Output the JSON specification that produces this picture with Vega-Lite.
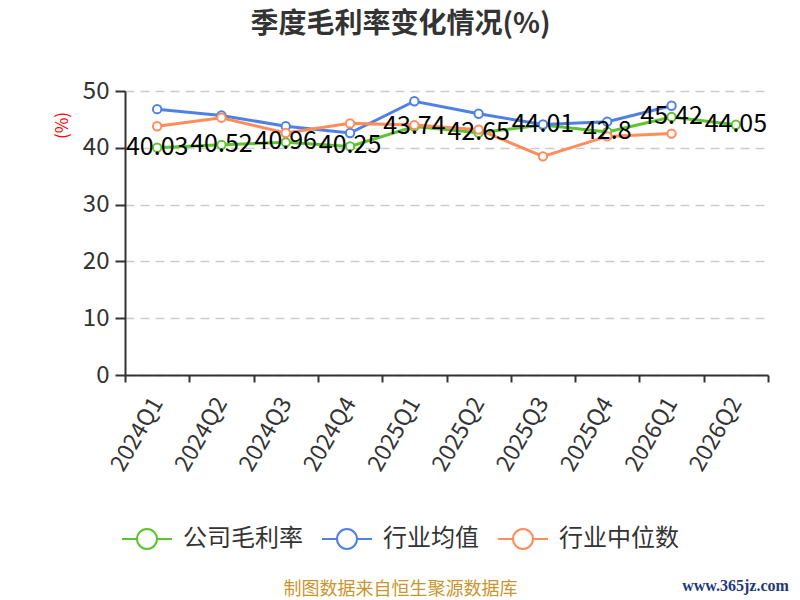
{
  "$schema": "https://vega.github.io/schema/vega-lite/v6.json",
  "width": 643,
  "height": 284,
  "autosize": "none",
  "padding": {"left": 125, "top": 91, "right": 32, "bottom": 225},
  "background": "white",
  "title": {
    "text": "季度毛利率变化情况(%)",
    "fontSize": 28,
    "fontWeight": "bold",
    "color": "#333333",
    "font": "Noto Sans CJK SC",
    "anchor": "middle",
    "frame": "group",
    "dx": -46,
    "offset": 40
  },
  "config": {
    "font": "Noto Sans CJK SC",
    "view": {"stroke": null}
  },
  "data": {
    "values": [
      {"quarter": "2024Q1", "series": "公司毛利率", "value": 40.03},
      {"quarter": "2024Q2", "series": "公司毛利率", "value": 40.52},
      {"quarter": "2024Q3", "series": "公司毛利率", "value": 40.96},
      {"quarter": "2024Q4", "series": "公司毛利率", "value": 40.25},
      {"quarter": "2025Q1", "series": "公司毛利率", "value": 43.74},
      {"quarter": "2025Q2", "series": "公司毛利率", "value": 42.65},
      {"quarter": "2025Q3", "series": "公司毛利率", "value": 44.01},
      {"quarter": "2025Q4", "series": "公司毛利率", "value": 42.8},
      {"quarter": "2026Q1", "series": "公司毛利率", "value": 45.42},
      {"quarter": "2026Q2", "series": "公司毛利率", "value": 44.05},
      {"quarter": "2024Q1", "series": "行业均值", "value": 46.8},
      {"quarter": "2024Q2", "series": "行业均值", "value": 45.7},
      {"quarter": "2024Q3", "series": "行业均值", "value": 43.8},
      {"quarter": "2024Q4", "series": "行业均值", "value": 42.6},
      {"quarter": "2025Q1", "series": "行业均值", "value": 48.2},
      {"quarter": "2025Q2", "series": "行业均值", "value": 46.0},
      {"quarter": "2025Q3", "series": "行业均值", "value": 44.1},
      {"quarter": "2025Q4", "series": "行业均值", "value": 44.6},
      {"quarter": "2026Q1", "series": "行业均值", "value": 47.4},
      {"quarter": "2024Q1", "series": "行业中位数", "value": 43.8},
      {"quarter": "2024Q2", "series": "行业中位数", "value": 45.3},
      {"quarter": "2024Q3", "series": "行业中位数", "value": 42.6},
      {"quarter": "2024Q4", "series": "行业中位数", "value": 44.3},
      {"quarter": "2025Q1", "series": "行业中位数", "value": 44.0},
      {"quarter": "2025Q2", "series": "行业中位数", "value": 43.2},
      {"quarter": "2025Q3", "series": "行业中位数", "value": 38.5},
      {"quarter": "2025Q4", "series": "行业中位数", "value": 42.0},
      {"quarter": "2026Q1", "series": "行业中位数", "value": 42.5}
    ]
  },
  "encoding": {
    "x": {
      "field": "quarter",
      "type": "ordinal",
      "scale": {
        "domain": ["2024Q1", "2024Q2", "2024Q3", "2024Q4", "2025Q1", "2025Q2", "2025Q3", "2025Q4", "2026Q1", "2026Q2"],
        "paddingInner": 0,
        "paddingOuter": 0
      },
      "axis": {
        "title": "制图数据来自恒生聚源数据库",
        "titleColor": "#c8962c",
        "titleFontSize": 18,
        "titleFontWeight": "normal",
        "titleX": 275,
        "titleY": 214,
        "titleAlign": "center",
        "titleBaseline": "middle",
        "labelAngle": -60,
        "labelFontSize": 23,
        "labelColor": "#333333",
        "labelPadding": 17,
        "tickBand": "extent",
        "tickSize": 7,
        "tickWidth": 2,
        "tickColor": "#333333",
        "domainColor": "#333333",
        "domainWidth": 2,
        "grid": false
      }
    },
    "color": {
      "field": "series",
      "type": "nominal",
      "scale": {
        "domain": ["公司毛利率", "行业均值", "行业中位数"],
        "range": ["#5cc42e", "#4f80e6", "#ff8c5a"]
      },
      "legend": {
        "title": null,
        "orient": "none",
        "direction": "horizontal",
        "legendX": -4,
        "legendY": 422,
        "labelFontSize": 24,
        "labelColor": "#333333",
        "labelOffset": 10,
        "columnPadding": 15,
        "symbolType": "M-1,0L-0.4,0M0.4,0L1,0M0.4,0A0.4,0.4,0,1,0,-0.4,0A0.4,0.4,0,1,0,0.4,0Z",
        "symbolSize": 2500,
        "symbolStrokeWidth": 2,
        "symbolFillColor": "white",
        "symbolOpacity": 1,
        "encode": {"symbols": {"update": {"fill": {"value": "white"}, "opacity": {"value": 1}}}}
      }
    }
  },
  "layer": [
    {
      "encoding": {
        "y": {
          "field": "value",
          "type": "quantitative",
          "scale": {"domain": [0, 50], "nice": false, "zero": true},
          "axis": {
            "title": "(%)",
            "titleColor": "#ff0000",
            "titleFontSize": 17,
            "titleFontWeight": "normal",
            "titleX": -63,
            "titleY": 34,
            "titleAlign": "center",
            "titleBaseline": "middle",
            "titleAngle": -90,
            "values": [0, 10, 20, 30, 40, 50],
            "labelFontSize": 24,
            "labelColor": "#333333",
            "labelPadding": 6,
            "tickSize": 10,
            "tickWidth": 2,
            "tickColor": "#333333",
            "domainColor": "#333333",
            "domainWidth": 2,
            "grid": true,
            "gridColor": "#cccccc",
            "gridDash": [9, 6],
            "gridWidth": 1.5
          }
        }
      },
      "layer": [
        {
          "mark": {"type": "line", "strokeWidth": 3}
        },
        {
          "mark": {"type": "point", "shape": "circle", "filled": false, "fill": "white", "size": 70, "strokeWidth": 2, "opacity": 1}
        },
        {
          "transform": [{"filter": "datum.series === '公司毛利率'"}],
          "mark": {"type": "text", "fontSize": 25, "color": "#000000", "align": "center", "baseline": "middle", "dy": -1},
          "encoding": {
            "text": {"field": "value", "type": "nominal"},
            "color": {"value": "#000000"}
          }
        }
      ]
    },
    {
      "mark": {"type": "point", "opacity": 0},
      "encoding": {
        "y": {
          "field": "value",
          "type": "quantitative",
          "scale": {"domain": [0, 50], "nice": false, "zero": true},
          "axis": {
            "orient": "right",
            "title": "www.365jz.com",
            "titleFont": "Liberation Serif",
            "titleFontSize": 16,
            "titleFontWeight": "bold",
            "titleColor": "#1f3a7a",
            "titleAngle": 0,
            "titleX": -33,
            "titleY": 494,
            "titleAlign": "center",
            "titleBaseline": "middle",
            "labels": false,
            "ticks": false,
            "domain": false,
            "grid": false
          }
        },
        "color": {"value": "#000000"}
      }
    }
  ],
  "resolve": {"scale": {"y": "independent"}}
}
